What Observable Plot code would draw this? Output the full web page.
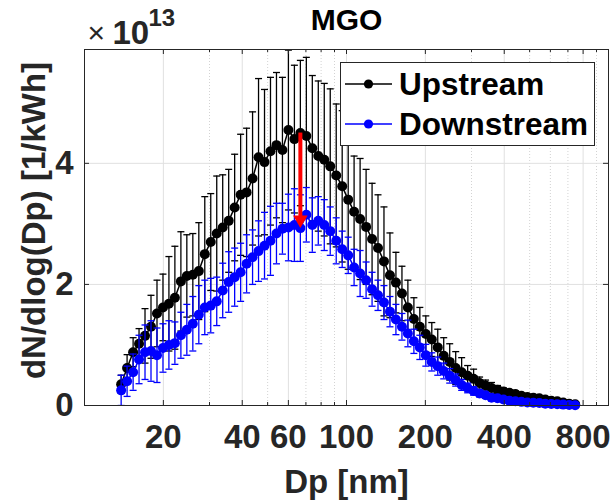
<!DOCTYPE html>
<html><head><meta charset="utf-8">
<script src="https://cdn.jsdelivr.net/npm/d3@7"></script>
<script src="https://cdn.jsdelivr.net/npm/@observablehq/plot@0.6"></script>
<style>
body{margin:0;background:#fff;}
#chart{position:relative;width:610px;height:504px;font-family:'Liberation Sans',Arial,sans-serif;}
#legend{position:absolute;left:340px;top:62px;width:253px;height:82px;border:1px solid #262626;background:#fff;}
.lrow{position:absolute;left:0;height:40px;display:flex;align-items:center;font-weight:bold;font-size:31.5px;color:#000;}
.lrow svg{margin-left:4px;margin-right:6px;}
</style></head><body><div id="chart"></div>
<script>
// Particle diameter bins (nm)
const dp = [
 13.80,14.54,15.33,16.15,17.02,17.94,18.91,19.93,21.00,22.13,
 23.33,24.58,25.91,27.31,28.78,30.33,31.97,33.69,35.51,37.42,
 39.44,41.56,43.80,46.16,48.65,51.27,54.04,56.95,60.02,63.26,
 66.67,70.26,74.05,78.04,82.25,86.68,91.36,96.28,101.5,106.9,
 112.7,118.8,125.2,131.9,139.0,146.5,154.4,162.8,171.5,180.8,
 190.5,200.8,211.6,223.0,235.0,247.7,261.1,275.1,290.0,305.6,
 322.1,339.4,357.7,377.0,397.3,418.7,441.3,465.1,490.2,516.6,
 544.4,573.8,604.7,637.3,671.7,707.9,746.0];
// dN/dlog(Dp), units of 1e13 per kWh
const upstream = [
 0.35,0.62,0.88,1.02,1.15,1.30,1.52,1.62,1.68,1.78,
 2.05,2.14,2.16,2.22,2.50,2.70,2.84,2.94,3.05,3.27,
 3.48,3.52,3.75,4.10,4.02,4.20,4.30,4.22,4.55,4.40,
 4.50,4.45,4.25,4.12,4.06,3.95,3.80,3.62,3.40,3.20,
 3.08,2.95,2.75,2.60,2.38,2.15,2.03,1.85,1.62,1.43,
 1.30,1.18,1.09,0.96,0.82,0.72,0.62,0.55,0.49,0.44,
 0.37,0.33,0.29,0.26,0.23,0.21,0.19,0.16,0.14,0.13,
 0.12,0.10,0.08,0.07,0.05,0.03,0.02];
const upstreamErr = [
 0.15,0.22,0.24,0.25,0.45,0.52,0.55,0.55,0.78,0.85,
 0.82,0.68,0.68,0.80,0.95,0.80,0.95,0.87,0.85,0.88,
 1.00,1.06,1.10,1.30,1.20,1.22,1.20,1.20,1.32,1.22,
 1.20,1.30,1.20,1.24,1.26,1.28,1.18,1.25,1.15,0.92,
 1.00,0.95,0.92,0.88,0.90,0.70,0.50,0.45,0.45,0.35,
 0.32,0.30,0.28,0.30,0.30,0.30,0.27,0.24,0.17,0.16,
 0.10,0.09,0.09,0.07,0.06,0.05,0.05,0.04,0.04,0.04,
 0.03,0.03,0.03,0.02,0.02,0.02,0.01];
const downstream = [
 0.25,0.40,0.55,0.76,0.88,0.90,0.83,0.95,1.00,1.03,
 1.16,1.25,1.35,1.50,1.62,1.65,1.72,1.90,2.04,2.12,
 2.20,2.34,2.45,2.55,2.64,2.72,2.84,2.92,2.94,2.98,
 2.93,3.15,2.98,3.05,2.98,2.88,2.72,2.58,2.48,2.28,
 2.18,2.07,1.92,1.82,1.70,1.55,1.42,1.30,1.19,1.06,
 0.96,0.83,0.72,0.65,0.57,0.49,0.42,0.34,0.29,0.24,
 0.20,0.17,0.13,0.12,0.10,0.08,0.07,0.06,0.05,0.045,
 0.04,0.03,0.025,0.02,0.015,0.01,0.005];
const downstreamErr = [
 0.25,0.25,0.30,0.40,0.45,0.50,0.45,0.40,0.40,0.35,
 0.38,0.42,0.45,0.48,0.45,0.45,0.40,0.45,0.50,0.48,
 0.48,0.48,0.45,0.50,0.55,0.57,0.50,0.42,0.55,0.60,
 0.55,0.45,0.45,0.40,0.42,0.40,0.38,0.30,0.30,0.30,
 0.38,0.30,0.28,0.25,0.28,0.25,0.25,0.22,0.22,0.20,
 0.20,0.18,0.15,0.15,0.13,0.12,0.10,0.09,0.08,0.07,
 0.06,0.05,0.05,0.04,0.04,0.03,0.03,0.03,0.02,0.02,
 0.02,0.02,0.01,0.01,0.01,0.01,0.01];
const seriesNames = ["Upstream","Downstream"];
const seriesColors = ["#000000","#0000ff"];
const xTicks = [20,40,60,100,200,400,800];
const xMinor = [10,30,50,70,80,90,300,500,600,700,900,1000];
const yTicks = [0,2,4];
const arrowIndex = 30; // reduction arrow at the mode

const W = 610, H = 504, mt = 49, mb = 99, ml = 84, mr = 2;
const fh = H - mt - mb, fw = W - ml - mr;
const axisColor = "#262626";
const capSym = {draw(ctx){ctx.moveTo(-3.5,0);ctx.lineTo(3.5,0);}};

const series = [
  {name: seriesNames[0], color: seriesColors[0], v: upstream, e: upstreamErr},
  {name: seriesNames[1], color: seriesColors[1], v: downstream, e: downstreamErr}
];
const rowsOf = s => dp.map((d,i) => ({dp: d, v: s.v[i], lo: s.v[i]-s.e[i], hi: s.v[i]+s.e[i]}));
const seriesMarks = series.flatMap(s => {
  const rows = rowsOf(s);
  return [
    Plot.ruleX(rows, {x:"dp", y1:"lo", y2:"hi", stroke:s.color, strokeWidth:1.3, clip:true}),
    Plot.dot(rows, {x:"dp", y:"hi", symbol:capSym, r:3, fill:"none", stroke:s.color, strokeWidth:1.3, clip:true}),
    Plot.dot(rows, {x:"dp", y:"lo", symbol:capSym, r:3, fill:"none", stroke:s.color, strokeWidth:1.3, clip:true}),
    Plot.line(rows, {x:"dp", y:"v", stroke:s.color, strokeWidth:1.5}),
    Plot.dot(rows, {x:"dp", y:"v", r:5, fill:s.color, stroke:"none"})
  ];
});
const arrow = [{x: dp[arrowIndex], y1: upstream[arrowIndex], y2: downstream[arrowIndex]}];

const font = "'Liberation Sans', Arial, sans-serif";
const chart = Plot.plot({
  width: W, height: H,
  marginTop: mt, marginBottom: mb, marginLeft: ml, marginRight: mr,
  style: {fontFamily: font, background: "white", overflow: "visible"},
  x: {type: "log", domain: [10, 1000], axis: null},
  y: {domain: [0, 5.88], axis: null},
  marks: [
    Plot.ruleX(xMinor, {x: d => d, stroke: "#c8c8c8", strokeWidth: 0.8, strokeDasharray: "1,2"}),
    Plot.ruleX(xTicks, {x: d => d, stroke: "#e0e0e0", strokeWidth: 1}),
    Plot.ruleY(yTicks.slice(1), {y: d => d, stroke: "#e0e0e0", strokeWidth: 1}),
    ...seriesMarks,
    Plot.ruleX(arrow, {x: "x", y1: "y1", y2: "y2", stroke: "#ff0000", strokeWidth: 4, insetBottom: 10}),
    Plot.dot(arrow, {x: "x", y: "y2", symbol: "triangle", r: 5.4, rotate: 180, fill: "#ff0000", stroke: "none", dy: -8.4}),
    // axis ticks (inside, MATLAB style)
    Plot.tickX(xTicks, {x: d => d, insetTop: fh - 5, stroke: axisColor}),
    Plot.tickX(xTicks, {x: d => d, insetBottom: fh - 5, stroke: axisColor}),
    Plot.tickX(xMinor, {x: d => d, insetTop: fh - 3, stroke: axisColor}),
    Plot.tickX(xMinor, {x: d => d, insetBottom: fh - 3, stroke: axisColor}),
    Plot.tickY(yTicks, {y: d => d, insetRight: fw - 5, stroke: axisColor}),
    Plot.tickY(yTicks, {y: d => d, insetLeft: fw - 5, stroke: axisColor}),
    Plot.frame({stroke: axisColor, strokeWidth: 1}),
    // tick labels
    Plot.text(xTicks, {x: d => d, text: d => String(d), frameAnchor: "bottom", lineAnchor: "top", dy: 19, fontSize: 33, fontWeight: "bold", fill: axisColor}),
    Plot.text(yTicks, {y: d => d, text: d => String(d), frameAnchor: "left", textAnchor: "end", dx: -11, fontSize: 33, fontWeight: "bold", fill: axisColor}),
    // axis labels & title
    Plot.text(["Dp [nm]"], {text: d => d, frameAnchor: "bottom", lineAnchor: "top", dy: 64, fontSize: 33, fontWeight: "bold", fill: axisColor}),
    Plot.text(["dN/dlog(Dp) [1/kWh]"], {text: d => d, frameAnchor: "left", textAnchor: "middle", rotate: -90, dx: -50, dy: -7, fontSize: 33, fontWeight: "bold", fill: axisColor}),
    Plot.text(["MGO"], {text: d => d, frameAnchor: "top", lineAnchor: "bottom", dy: -20, fontSize: 30, fontWeight: "bold", fill: "#000"}),
    // exponent label
    Plot.text(["\u00d7"], {text: d => d, frameAnchor: "top-left", textAnchor: "start", lineAnchor: "bottom", dx: 3, dy: -7, fontSize: 30, fill: axisColor}),
    Plot.text(["10"], {text: d => d, frameAnchor: "top-left", textAnchor: "start", lineAnchor: "bottom", dx: 28, dy: -6, fontSize: 33, fontWeight: "bold", fill: axisColor}),
    Plot.text(["13"], {text: d => d, frameAnchor: "top-left", textAnchor: "start", lineAnchor: "bottom", dx: 64, dy: -24, fontSize: 24, fontWeight: "bold", fill: axisColor})
  ]
});
const root = document.getElementById("chart");
root.appendChild(chart);
// legend overlay
const leg = document.createElement("div");
leg.id = "legend";
series.forEach((s, i) => {
  const row = document.createElement("div");
  row.className = "lrow";
  row.style.top = (1 + i * 40) + "px";
  row.innerHTML = `<svg width="48" height="20"><line x1="0" y1="10" x2="47" y2="10" stroke="${s.color}" stroke-width="1.5"/><circle cx="23.5" cy="10" r="4.6" fill="${s.color}"/></svg><span>${s.name}</span>`;
  leg.appendChild(row);
});
root.appendChild(leg);
</script></body></html>
